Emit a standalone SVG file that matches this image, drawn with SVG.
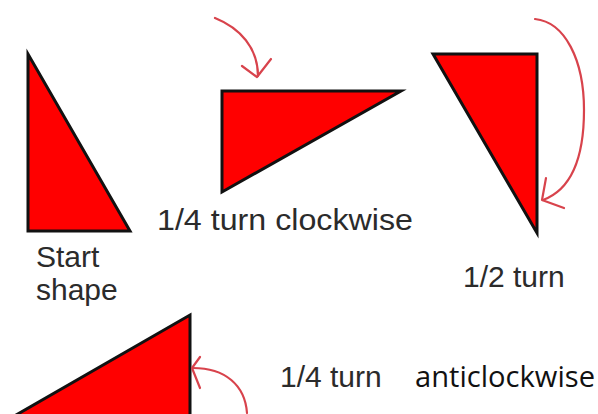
<svg xmlns="http://www.w3.org/2000/svg" width="598" height="414" viewBox="0 0 598 414">
<style>
.tri{fill:#ff0000;stroke:#111;stroke-width:3;stroke-linejoin:miter}
.arr{fill:none;stroke:#d8434c;stroke-width:2.2;stroke-linecap:round;stroke-linejoin:round}
.lbl{font-family:"Liberation Sans",Arial,sans-serif;font-size:30px;fill:#2b2b2b}
.lbl2{font-family:"Open Sans","Noto Sans",sans-serif;font-size:29px;fill:#111}
</style>
<rect width="598" height="414" fill="#ffffff"/>
<g id="start-shape">
<polygon class="tri" points="28,54 28,231 130,231"/>
<text class="lbl" x="36" y="267">Start</text>
<text class="lbl" x="36" y="300">shape</text>
</g>
<g id="quarter-clockwise">
<polygon class="tri" points="222,91 401,91 222,192"/>
<text class="lbl" x="157" y="230" textLength="256" lengthAdjust="spacingAndGlyphs">1/4 turn clockwise</text>
</g>
<g id="half-turn">
<polygon class="tri" points="433,54 537,54 537,233"/>
<text class="lbl" x="463" y="287">1/2 turn</text>
</g>
<g id="quarter-anticlockwise">
<polygon class="tri" points="190,315 190,430 -10,430"/>
<text class="lbl" x="280" y="387">1/4 turn</text>
<text class="lbl2" x="415" y="387" textLength="180" lengthAdjust="spacingAndGlyphs">anticlockwise</text>
</g>
<g id="connectors">
<path class="arr" d="M215,18 C240,28 258,48 258,76"/>
<path class="arr" d="M242,66 L257,77 L271,59"/>
<path class="arr" d="M535,19 C565,22 584,60 584,110 C584,160 570,190 543,200"/>
<path class="arr" d="M546,178 L542,200 L564,208"/>
<path class="arr" d="M247,413 C245,385 225,368 193,368"/>
<path class="arr" d="M200,357 L192,368 L200,388"/>
</g>
</svg>
